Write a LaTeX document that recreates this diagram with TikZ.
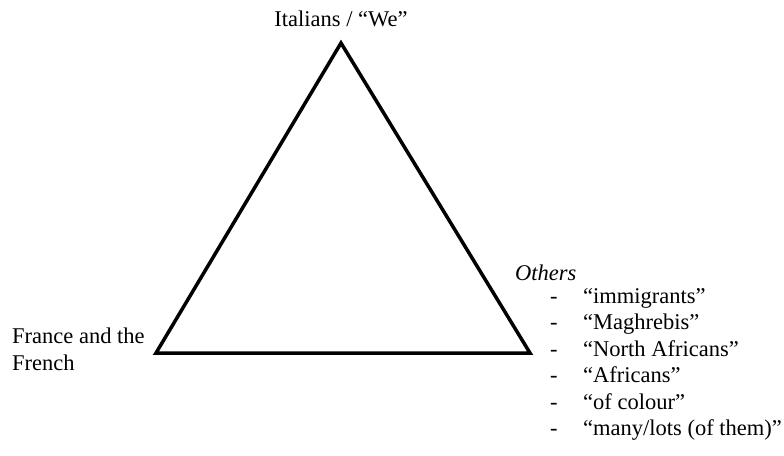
\documentclass[tikz,border=0pt]{standalone}
\usepackage{fontspec}
\setmainfont{Liberation Serif}
\begin{document}
\begin{tikzpicture}[x=1pt,y=-1pt,
  lbl/.style={inner sep=0pt,font=\fontsize{22.5}{26.5}\selectfont},
  side/.style={line width=3.5pt,line join=miter}]
\useasboundingbox (0,0) rectangle (784,455);
\coordinate (top) at (341,43);
\coordinate (bl) at (156,353);
\coordinate (br) at (530,353);
\draw[side] (top) -- (bl) -- (br) -- cycle;
\node[lbl,anchor=base] (we) at (341,27) {Italians / “We”};
\node[lbl,anchor=base west,align=left] (fr) at (12,370) {France and the\\French};
\node[lbl,anchor=base west] (oth) at (515,280) {\itshape Others};
\foreach \t [count=\i] in {“immigrants”,“Maghrebis”,“North Africans”,“Africans”,“of colour”,“many/lots (of them)”}{
  \node[lbl,anchor=base west] (d\i) at (550,{277+26.4*\i}) {-};
  \node[lbl,anchor=base west] (o\i) at (583,{277+26.4*\i}) {\t};
}
\end{tikzpicture}
\end{document}
